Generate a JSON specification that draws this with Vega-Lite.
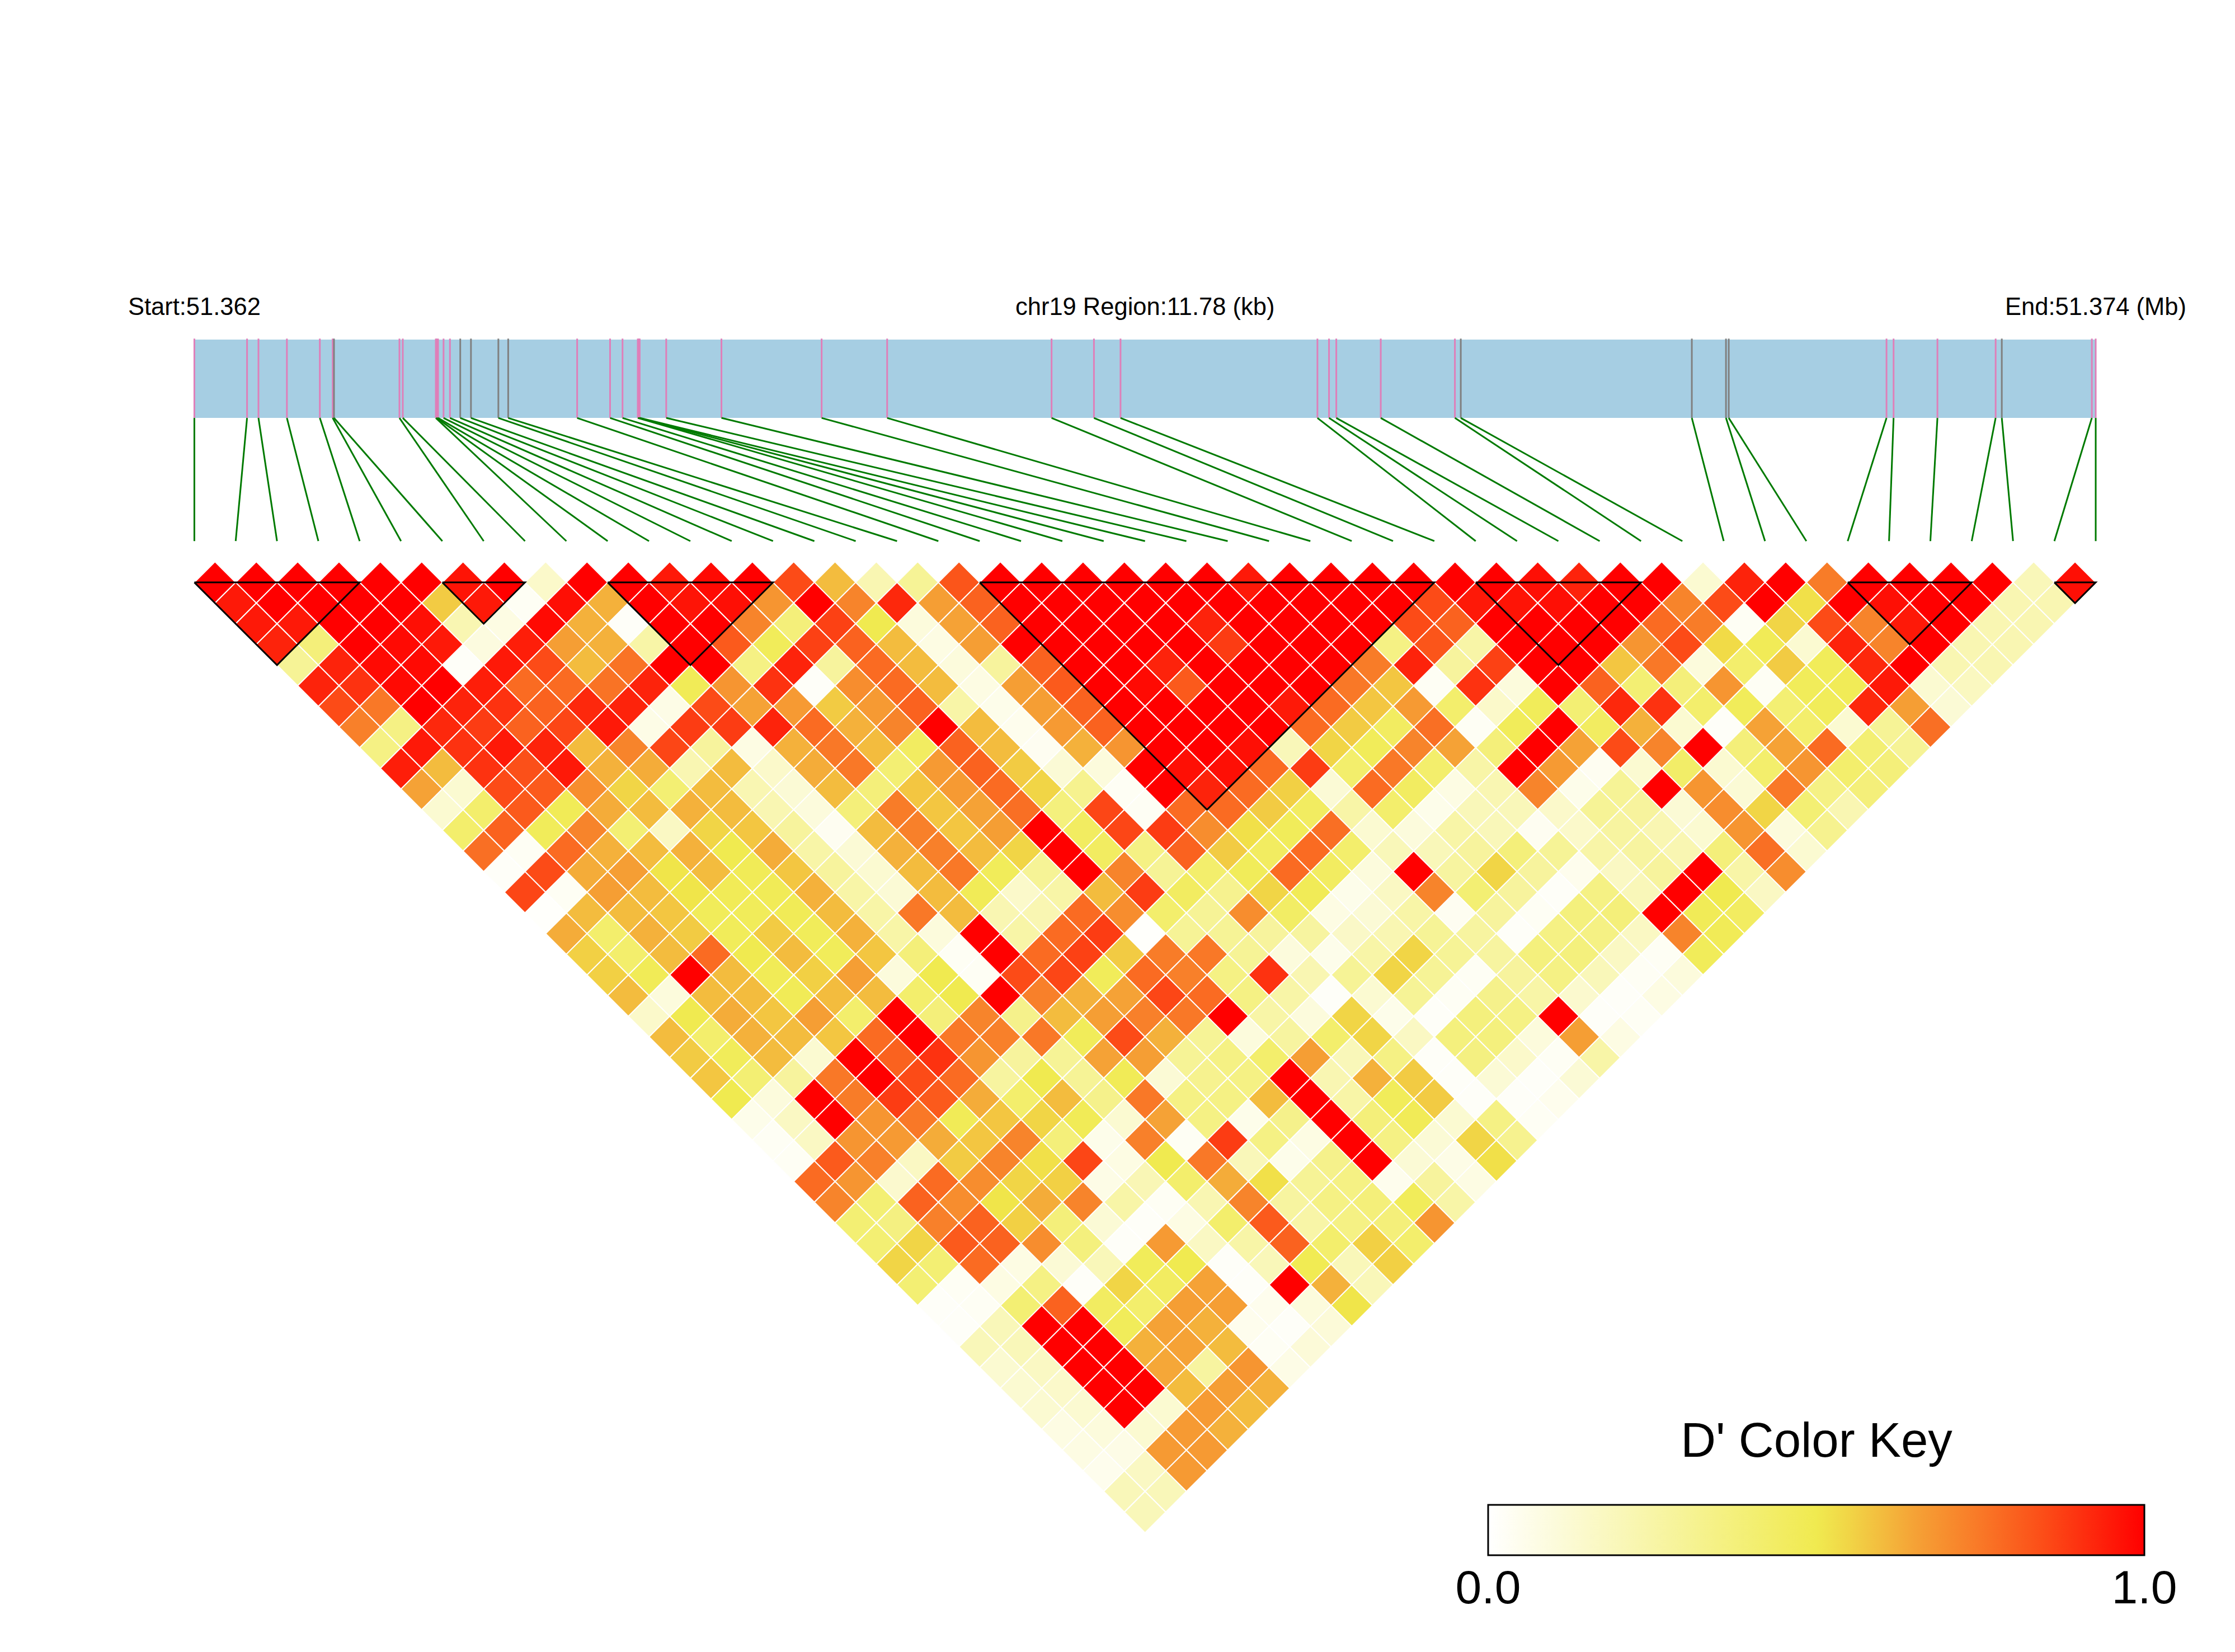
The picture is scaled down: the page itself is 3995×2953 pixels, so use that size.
{"$schema":"https://vega.github.io/schema/vega-lite/v6.json","width":3995,"height":2953,"autosize":{"type":"fit","contains":"padding"},"padding":0,"background":"white","view":{"stroke":null},
"datasets":{
"pairs":[
{"a":0,"d":1,"v":1},{"a":1,"d":1,"v":1},{"a":2,"d":1,"v":1},{"a":3,"d":1,"v":1},{"a":4,"d":1,"v":1},{"a":5,"d":1,"v":1},{"a":6,"d":1,"v":0.96},{"a":7,"d":1,"v":1},{"a":8,"d":1,"v":0.15},{"a":9,"d":1,"v":1},{"a":10,"d":1,"v":1},{"a":11,"d":1,"v":0.95},{"a":12,"d":1,"v":0.98},{"a":13,"d":1,"v":1},{"a":14,"d":1,"v":0.85},{"a":15,"d":1,"v":0.6},{"a":16,"d":1,"v":0.22},{"a":17,"d":1,"v":0.3},{"a":18,"d":1,"v":0.83},{"a":19,"d":1,"v":1},{"a":20,"d":1,"v":1},{"a":21,"d":1,"v":1},{"a":22,"d":1,"v":1},{"a":23,"d":1,"v":1},{"a":24,"d":1,"v":1},{"a":25,"d":1,"v":0.95},{"a":26,"d":1,"v":1},{"a":27,"d":1,"v":1},{"a":28,"d":1,"v":1},{"a":29,"d":1,"v":1},{"a":30,"d":1,"v":1},{"a":31,"d":1,"v":1},{"a":32,"d":1,"v":0.97},{"a":33,"d":1,"v":0.93},{"a":34,"d":1,"v":1},{"a":35,"d":1,"v":1},{"a":36,"d":1,"v":0.13},{"a":37,"d":1,"v":0.93},{"a":38,"d":1,"v":1},{"a":39,"d":1,"v":0.74},{"a":40,"d":1,"v":1},{"a":41,"d":1,"v":1},{"a":42,"d":1,"v":1},{"a":43,"d":1,"v":1},{"a":44,"d":1,"v":0.2},{"a":45,"d":1,"v":0.97},
{"a":0,"d":2,"v":0.95},{"a":1,"d":2,"v":1},{"a":2,"d":2,"v":1},{"a":3,"d":2,"v":1},{"a":4,"d":2,"v":1},{"a":5,"d":2,"v":0.57},{"a":6,"d":2,"v":0.95},{"a":7,"d":2,"v":0.03},{"a":8,"d":2,"v":0.97},{"a":9,"d":2,"v":0.62},{"a":10,"d":2,"v":1},{"a":11,"d":2,"v":0.96},{"a":12,"d":2,"v":0.97},{"a":13,"d":2,"v":0.68},{"a":14,"d":2,"v":1},{"a":15,"d":2,"v":0.72},{"a":16,"d":2,"v":0.92},{"a":17,"d":2,"v":0.66},{"a":18,"d":2,"v":0.8},{"a":19,"d":2,"v":1},{"a":20,"d":2,"v":1},{"a":21,"d":2,"v":1},{"a":22,"d":2,"v":1},{"a":23,"d":2,"v":1},{"a":24,"d":2,"v":1},{"a":25,"d":2,"v":1},{"a":26,"d":2,"v":1},{"a":27,"d":2,"v":1},{"a":28,"d":2,"v":1},{"a":29,"d":2,"v":0.85},{"a":30,"d":2,"v":0.95},{"a":31,"d":2,"v":0.96},{"a":32,"d":2,"v":0.97},{"a":33,"d":2,"v":1},{"a":34,"d":2,"v":1},{"a":35,"d":2,"v":0.72},{"a":36,"d":2,"v":0.85},{"a":37,"d":2,"v":1},{"a":38,"d":2,"v":0.53},{"a":39,"d":2,"v":1},{"a":40,"d":2,"v":0.97},{"a":41,"d":2,"v":1},{"a":42,"d":2,"v":1},{"a":43,"d":2,"v":0.22},{"a":44,"d":2,"v":0.22},
{"a":0,"d":3,"v":0.95},{"a":1,"d":3,"v":0.95},{"a":2,"d":3,"v":1},{"a":3,"d":3,"v":1},{"a":4,"d":3,"v":0.97},{"a":5,"d":3,"v":0.22},{"a":6,"d":3,"v":0.08},{"a":7,"d":3,"v":0.98},{"a":8,"d":3,"v":0.62},{"a":9,"d":3,"v":0.02},{"a":10,"d":3,"v":1},{"a":11,"d":3,"v":1},{"a":12,"d":3,"v":0.72},{"a":13,"d":3,"v":0.38},{"a":14,"d":3,"v":0.87},{"a":15,"d":3,"v":0.5},{"a":16,"d":3,"v":0.1},{"a":17,"d":3,"v":0.65},{"a":18,"d":3,"v":0.8},{"a":19,"d":3,"v":1},{"a":20,"d":3,"v":1},{"a":21,"d":3,"v":1},{"a":22,"d":3,"v":1},{"a":23,"d":3,"v":0.93},{"a":24,"d":3,"v":1},{"a":25,"d":3,"v":1},{"a":26,"d":3,"v":1},{"a":27,"d":3,"v":1},{"a":28,"d":3,"v":0.85},{"a":29,"d":3,"v":0.8},{"a":30,"d":3,"v":1},{"a":31,"d":3,"v":1},{"a":32,"d":3,"v":1},{"a":33,"d":3,"v":1},{"a":34,"d":3,"v":0.78},{"a":35,"d":3,"v":0.74},{"a":36,"d":3,"v":0.03},{"a":37,"d":3,"v":0.55},{"a":38,"d":3,"v":0.85},{"a":39,"d":3,"v":0.72},{"a":40,"d":3,"v":0.95},{"a":41,"d":3,"v":1},{"a":42,"d":3,"v":0.22},{"a":43,"d":3,"v":0.22},
{"a":0,"d":4,"v":0.93},{"a":1,"d":4,"v":0.38},{"a":2,"d":4,"v":1},{"a":3,"d":4,"v":0.98},{"a":4,"d":4,"v":0.95},{"a":5,"d":4,"v":0.09},{"a":6,"d":4,"v":0.94},{"a":7,"d":4,"v":0.66},{"a":8,"d":4,"v":0.62},{"a":9,"d":4,"v":0.25},{"a":10,"d":4,"v":1},{"a":11,"d":4,"v":0.82},{"a":12,"d":4,"v":0.47},{"a":13,"d":4,"v":0.87},{"a":14,"d":4,"v":0.8},{"a":15,"d":4,"v":0.6},{"a":16,"d":4,"v":0.08},{"a":17,"d":4,"v":0.66},{"a":18,"d":4,"v":1},{"a":19,"d":4,"v":1},{"a":20,"d":4,"v":1},{"a":21,"d":4,"v":1},{"a":22,"d":4,"v":1},{"a":23,"d":4,"v":0.88},{"a":24,"d":4,"v":1},{"a":25,"d":4,"v":1},{"a":26,"d":4,"v":1},{"a":27,"d":4,"v":0.35},{"a":28,"d":4,"v":0.83},{"a":29,"d":4,"v":0.25},{"a":30,"d":4,"v":1},{"a":31,"d":4,"v":1},{"a":32,"d":4,"v":1},{"a":33,"d":4,"v":0.68},{"a":34,"d":4,"v":0.85},{"a":35,"d":4,"v":0.54},{"a":36,"d":4,"v":0.48},{"a":37,"d":4,"v":0.13},{"a":38,"d":4,"v":0.93},{"a":39,"d":4,"v":0.72},{"a":40,"d":4,"v":1},{"a":41,"d":4,"v":0.22},{"a":42,"d":4,"v":0.22},
{"a":0,"d":5,"v":0.3},{"a":1,"d":5,"v":0.93},{"a":2,"d":5,"v":0.98},{"a":3,"d":5,"v":0.98},{"a":4,"d":5,"v":0.02},{"a":5,"d":5,"v":0.95},{"a":6,"d":5,"v":0.85},{"a":7,"d":5,"v":0.6},{"a":8,"d":5,"v":0.76},{"a":9,"d":5,"v":1},{"a":10,"d":5,"v":1},{"a":11,"d":5,"v":0.35},{"a":12,"d":5,"v":0.93},{"a":13,"d":5,"v":0.28},{"a":14,"d":5,"v":0.78},{"a":15,"d":5,"v":0.6},{"a":16,"d":5,"v":0.1},{"a":17,"d":5,"v":0.28},{"a":18,"d":5,"v":0.8},{"a":19,"d":5,"v":1},{"a":20,"d":5,"v":1},{"a":21,"d":5,"v":0.93},{"a":22,"d":5,"v":1},{"a":23,"d":5,"v":1},{"a":24,"d":5,"v":1},{"a":25,"d":5,"v":1},{"a":26,"d":5,"v":0.74},{"a":27,"d":5,"v":0.93},{"a":28,"d":5,"v":0.28},{"a":29,"d":5,"v":0.87},{"a":30,"d":5,"v":1},{"a":31,"d":5,"v":1},{"a":32,"d":5,"v":0.58},{"a":33,"d":5,"v":0.75},{"a":34,"d":5,"v":0.1},{"a":35,"d":5,"v":0.42},{"a":36,"d":5,"v":0.57},{"a":37,"d":5,"v":0.47},{"a":38,"d":5,"v":0.92},{"a":39,"d":5,"v":1},{"a":40,"d":5,"v":0.22},{"a":41,"d":5,"v":0.22},
{"a":0,"d":6,"v":0.93},{"a":1,"d":6,"v":0.9},{"a":2,"d":6,"v":0.98},{"a":3,"d":6,"v":1},{"a":4,"d":6,"v":0.94},{"a":5,"d":6,"v":0.78},{"a":6,"d":6,"v":0.78},{"a":7,"d":6,"v":0.76},{"a":8,"d":6,"v":0.93},{"a":9,"d":6,"v":0.48},{"a":10,"d":6,"v":0.68},{"a":11,"d":6,"v":0.9},{"a":12,"d":6,"v":0.02},{"a":13,"d":6,"v":0.7},{"a":14,"d":6,"v":0.78},{"a":15,"d":6,"v":0.6},{"a":16,"d":6,"v":0.08},{"a":17,"d":6,"v":0.66},{"a":18,"d":6,"v":0.82},{"a":19,"d":6,"v":1},{"a":20,"d":6,"v":0.98},{"a":21,"d":6,"v":0.82},{"a":22,"d":6,"v":1},{"a":23,"d":6,"v":1},{"a":24,"d":6,"v":1},{"a":25,"d":6,"v":0.75},{"a":26,"d":6,"v":0.58},{"a":27,"d":6,"v":0.03},{"a":28,"d":6,"v":0.9},{"a":29,"d":6,"v":0.1},{"a":30,"d":6,"v":1},{"a":31,"d":6,"v":0.8},{"a":32,"d":6,"v":0.4},{"a":33,"d":6,"v":0.38},{"a":34,"d":6,"v":0.68},{"a":35,"d":6,"v":0.03},{"a":36,"d":6,"v":0.47},{"a":37,"d":6,"v":0.48},{"a":38,"d":6,"v":0.95},{"a":39,"d":6,"v":0.13},{"a":40,"d":6,"v":0.18},
{"a":0,"d":7,"v":0.85},{"a":1,"d":7,"v":0.75},{"a":2,"d":7,"v":1},{"a":3,"d":7,"v":0.93},{"a":4,"d":7,"v":0.9},{"a":5,"d":7,"v":0.8},{"a":6,"d":7,"v":0.92},{"a":7,"d":7,"v":0.93},{"a":8,"d":7,"v":0.07},{"a":9,"d":7,"v":0.85},{"a":10,"d":7,"v":0.65},{"a":11,"d":7,"v":0.67},{"a":12,"d":7,"v":0.57},{"a":13,"d":7,"v":0.67},{"a":14,"d":7,"v":0.8},{"a":15,"d":7,"v":0.25},{"a":16,"d":7,"v":0.06},{"a":17,"d":7,"v":0.66},{"a":18,"d":7,"v":0.8},{"a":19,"d":7,"v":1},{"a":20,"d":7,"v":1},{"a":21,"d":7,"v":1},{"a":22,"d":7,"v":1},{"a":23,"d":7,"v":0.95},{"a":24,"d":7,"v":0.78},{"a":25,"d":7,"v":0.58},{"a":26,"d":7,"v":0.67},{"a":27,"d":7,"v":0.42},{"a":28,"d":7,"v":0.15},{"a":29,"d":7,"v":0.47},{"a":30,"d":7,"v":0.4},{"a":31,"d":7,"v":0.92},{"a":32,"d":7,"v":0.9},{"a":33,"d":7,"v":0.42},{"a":34,"d":7,"v":0.47},{"a":35,"d":7,"v":0.4},{"a":36,"d":7,"v":0.47},{"a":37,"d":7,"v":0.92},{"a":38,"d":7,"v":0.66},{"a":39,"d":7,"v":0.12},
{"a":0,"d":8,"v":0.73},{"a":1,"d":8,"v":0.35},{"a":2,"d":8,"v":0.92},{"a":3,"d":8,"v":0.88},{"a":4,"d":8,"v":0.8},{"a":5,"d":8,"v":0.86},{"a":6,"d":8,"v":0.95},{"a":7,"d":8,"v":0.07},{"a":8,"d":8,"v":0.88},{"a":9,"d":8,"v":0.88},{"a":10,"d":8,"v":0.93},{"a":11,"d":8,"v":0.78},{"a":12,"d":8,"v":0.62},{"a":13,"d":8,"v":0.72},{"a":14,"d":8,"v":1},{"a":15,"d":8,"v":0.6},{"a":16,"d":8,"v":0.05},{"a":17,"d":8,"v":0.67},{"a":18,"d":8,"v":0.8},{"a":19,"d":8,"v":1},{"a":20,"d":8,"v":1},{"a":21,"d":8,"v":1},{"a":22,"d":8,"v":1},{"a":23,"d":8,"v":0.78},{"a":24,"d":8,"v":0.57},{"a":25,"d":8,"v":0.45},{"a":26,"d":8,"v":0.77},{"a":27,"d":8,"v":0.03},{"a":28,"d":8,"v":0.47},{"a":29,"d":8,"v":1},{"a":30,"d":8,"v":0.45},{"a":31,"d":8,"v":0.62},{"a":32,"d":8,"v":0.13},{"a":33,"d":8,"v":0.02},{"a":34,"d":8,"v":0.65},{"a":35,"d":8,"v":0.42},{"a":36,"d":8,"v":0.13},{"a":37,"d":8,"v":0.3},{"a":38,"d":8,"v":0.77},
{"a":0,"d":9,"v":0.35},{"a":1,"d":9,"v":0.95},{"a":2,"d":9,"v":0.9},{"a":3,"d":9,"v":0.95},{"a":4,"d":9,"v":0.93},{"a":5,"d":9,"v":0.6},{"a":6,"d":9,"v":0.72},{"a":7,"d":9,"v":0.86},{"a":8,"d":9,"v":0.28},{"a":9,"d":9,"v":0.08},{"a":10,"d":9,"v":0.62},{"a":11,"d":9,"v":0.75},{"a":12,"d":9,"v":0.6},{"a":13,"d":9,"v":0.45},{"a":14,"d":9,"v":0.8},{"a":15,"d":9,"v":0.6},{"a":16,"d":9,"v":0.04},{"a":17,"d":9,"v":0.62},{"a":18,"d":9,"v":0.68},{"a":19,"d":9,"v":1},{"a":20,"d":9,"v":1},{"a":21,"d":9,"v":0.97},{"a":22,"d":9,"v":0.2},{"a":23,"d":9,"v":0.55},{"a":24,"d":9,"v":0.47},{"a":25,"d":9,"v":0.72},{"a":26,"d":9,"v":0.65},{"a":27,"d":9,"v":0.38},{"a":28,"d":9,"v":1},{"a":29,"d":9,"v":0.65},{"a":30,"d":9,"v":0.85},{"a":31,"d":9,"v":0.72},{"a":32,"d":9,"v":1},{"a":33,"d":9,"v":0.38},{"a":34,"d":9,"v":0.65},{"a":35,"d":9,"v":0.78},{"a":36,"d":9,"v":0.4},{"a":37,"d":9,"v":0.3},
{"a":0,"d":10,"v":0.94},{"a":1,"d":10,"v":0.6},{"a":2,"d":10,"v":0.9},{"a":3,"d":10,"v":0.84},{"a":4,"d":10,"v":0.95},{"a":5,"d":10,"v":0.62},{"a":6,"d":10,"v":0.63},{"a":7,"d":10,"v":0.22},{"a":8,"d":10,"v":0.6},{"a":9,"d":10,"v":0.15},{"a":10,"d":10,"v":0.63},{"a":11,"d":10,"v":0.75},{"a":12,"d":10,"v":0.4},{"a":13,"d":10,"v":0.67},{"a":14,"d":10,"v":0.8},{"a":15,"d":10,"v":0.57},{"a":16,"d":10,"v":0.12},{"a":17,"d":10,"v":0.1},{"a":18,"d":10,"v":1},{"a":19,"d":10,"v":0.97},{"a":20,"d":10,"v":0.97},{"a":21,"d":10,"v":0.78},{"a":22,"d":10,"v":0.88},{"a":23,"d":10,"v":0.42},{"a":24,"d":10,"v":0.75},{"a":25,"d":10,"v":0.42},{"a":26,"d":10,"v":0.25},{"a":27,"d":10,"v":1},{"a":28,"d":10,"v":0.67},{"a":29,"d":10,"v":0.04},{"a":30,"d":10,"v":0.13},{"a":31,"d":10,"v":0.43},{"a":32,"d":10,"v":0.13},{"a":33,"d":10,"v":0.42},{"a":34,"d":10,"v":0.68},{"a":35,"d":10,"v":0.42},{"a":36,"d":10,"v":0.38},
{"a":0,"d":11,"v":0.65},{"a":1,"d":11,"v":0.13},{"a":2,"d":11,"v":0.85},{"a":3,"d":11,"v":0.82},{"a":4,"d":11,"v":0.7},{"a":5,"d":11,"v":0.55},{"a":6,"d":11,"v":0.4},{"a":7,"d":11,"v":0.6},{"a":8,"d":11,"v":0.22},{"a":9,"d":11,"v":0.12},{"a":10,"d":11,"v":0.6},{"a":11,"d":11,"v":0.38},{"a":12,"d":11,"v":0.58},{"a":13,"d":11,"v":0.67},{"a":14,"d":11,"v":0.78},{"a":15,"d":11,"v":0.55},{"a":16,"d":11,"v":0.32},{"a":17,"d":11,"v":0.03},{"a":18,"d":11,"v":1},{"a":19,"d":11,"v":0.93},{"a":20,"d":11,"v":0.78},{"a":21,"d":11,"v":0.56},{"a":22,"d":11,"v":0.12},{"a":23,"d":11,"v":0.78},{"a":24,"d":11,"v":0.45},{"a":25,"d":11,"v":0.08},{"a":26,"d":11,"v":0.22},{"a":27,"d":11,"v":0.72},{"a":28,"d":11,"v":0.06},{"a":29,"d":11,"v":0.3},{"a":30,"d":11,"v":1},{"a":31,"d":11,"v":0.68},{"a":32,"d":11,"v":0.12},{"a":33,"d":11,"v":0.75},{"a":34,"d":11,"v":0.35},{"a":35,"d":11,"v":0.38},
{"a":0,"d":12,"v":0.13},{"a":1,"d":12,"v":0.42},{"a":2,"d":12,"v":0.82},{"a":3,"d":12,"v":0.48},{"a":4,"d":12,"v":0.63},{"a":5,"d":12,"v":0.6},{"a":6,"d":12,"v":0.62},{"a":7,"d":12,"v":0.6},{"a":8,"d":12,"v":0.22},{"a":9,"d":12,"v":0.1},{"a":10,"d":12,"v":0.38},{"a":11,"d":12,"v":0.74},{"a":12,"d":12,"v":0.58},{"a":13,"d":12,"v":0.65},{"a":14,"d":12,"v":0.77},{"a":15,"d":12,"v":0.37},{"a":16,"d":12,"v":0.86},{"a":17,"d":12,"v":0.03},{"a":18,"d":12,"v":0.78},{"a":19,"d":12,"v":0.78},{"a":20,"d":12,"v":0.57},{"a":21,"d":12,"v":0.45},{"a":22,"d":12,"v":0.25},{"a":23,"d":12,"v":0.42},{"a":24,"d":12,"v":0.06},{"a":25,"d":12,"v":0.2},{"a":26,"d":12,"v":0.2},{"a":27,"d":12,"v":0.15},{"a":28,"d":12,"v":0.3},{"a":29,"d":12,"v":0.28},{"a":30,"d":12,"v":0.12},{"a":31,"d":12,"v":0.7},{"a":32,"d":12,"v":0.55},{"a":33,"d":12,"v":0.4},{"a":34,"d":12,"v":0.22},
{"a":0,"d":13,"v":0.42},{"a":1,"d":13,"v":0.8},{"a":2,"d":13,"v":0.47},{"a":3,"d":13,"v":0.72},{"a":4,"d":13,"v":0.4},{"a":5,"d":13,"v":0.17},{"a":6,"d":13,"v":0.55},{"a":7,"d":13,"v":0.58},{"a":8,"d":13,"v":0.28},{"a":9,"d":13,"v":0.04},{"a":10,"d":13,"v":0.6},{"a":11,"d":13,"v":0.73},{"a":12,"d":13,"v":0.58},{"a":13,"d":13,"v":0.66},{"a":14,"d":13,"v":1},{"a":15,"d":13,"v":0.45},{"a":16,"d":13,"v":0.86},{"a":17,"d":13,"v":0.88},{"a":18,"d":13,"v":0.7},{"a":19,"d":13,"v":0.53},{"a":20,"d":13,"v":0.47},{"a":21,"d":13,"v":0.77},{"a":22,"d":13,"v":0.13},{"a":23,"d":13,"v":0.1},{"a":24,"d":13,"v":0.25},{"a":25,"d":13,"v":0.2},{"a":26,"d":13,"v":0.04},{"a":27,"d":13,"v":0.15},{"a":28,"d":13,"v":0.27},{"a":29,"d":13,"v":0.22},{"a":30,"d":13,"v":0.13},{"a":31,"d":13,"v":0.68},{"a":32,"d":13,"v":0.1},{"a":33,"d":13,"v":0.32},
{"a":0,"d":14,"v":0.77},{"a":1,"d":14,"v":0.03},{"a":2,"d":14,"v":0.78},{"a":3,"d":14,"v":0.62},{"a":4,"d":14,"v":0.6},{"a":5,"d":14,"v":0.62},{"a":6,"d":14,"v":0.5},{"a":7,"d":14,"v":0.63},{"a":8,"d":14,"v":0.25},{"a":9,"d":14,"v":0.12},{"a":10,"d":14,"v":0.62},{"a":11,"d":14,"v":0.73},{"a":12,"d":14,"v":0.6},{"a":13,"d":14,"v":0.55},{"a":14,"d":14,"v":1},{"a":15,"d":14,"v":0.45},{"a":16,"d":14,"v":0.35},{"a":17,"d":14,"v":0.8},{"a":18,"d":14,"v":0.57},{"a":19,"d":14,"v":0.45},{"a":20,"d":14,"v":0.78},{"a":21,"d":14,"v":0.42},{"a":22,"d":14,"v":0.2},{"a":23,"d":14,"v":0.2},{"a":24,"d":14,"v":0.28},{"a":25,"d":14,"v":0.38},{"a":26,"d":14,"v":0.3},{"a":27,"d":14,"v":0.25},{"a":28,"d":14,"v":0.27},{"a":29,"d":14,"v":0.22},{"a":30,"d":14,"v":0.38},{"a":31,"d":14,"v":0.77},{"a":32,"d":14,"v":0.13},
{"a":0,"d":15,"v":0.02},{"a":1,"d":15,"v":0.85},{"a":2,"d":15,"v":0.63},{"a":3,"d":15,"v":0.66},{"a":4,"d":15,"v":0.52},{"a":5,"d":15,"v":0.6},{"a":6,"d":15,"v":0.48},{"a":7,"d":15,"v":0.58},{"a":8,"d":15,"v":0.28},{"a":9,"d":15,"v":0.13},{"a":10,"d":15,"v":0.6},{"a":11,"d":15,"v":0.75},{"a":12,"d":15,"v":0.47},{"a":13,"d":15,"v":0.3},{"a":14,"d":15,"v":1},{"a":15,"d":15,"v":0.72},{"a":16,"d":15,"v":0.3},{"a":17,"d":15,"v":0.42},{"a":18,"d":15,"v":0.47},{"a":19,"d":15,"v":0.78},{"a":20,"d":15,"v":0.45},{"a":21,"d":15,"v":0.1},{"a":22,"d":15,"v":1},{"a":23,"d":15,"v":0.27},{"a":24,"d":15,"v":0.55},{"a":25,"d":15,"v":0.28},{"a":26,"d":15,"v":0.05},{"a":27,"d":15,"v":0.17},{"a":28,"d":15,"v":0.28},{"a":29,"d":15,"v":1},{"a":30,"d":15,"v":0.25},{"a":31,"d":15,"v":0.7},
{"a":0,"d":16,"v":0.86},{"a":1,"d":16,"v":0.03},{"a":2,"d":16,"v":0.66},{"a":3,"d":16,"v":0.6},{"a":4,"d":16,"v":0.52},{"a":5,"d":16,"v":0.48},{"a":6,"d":16,"v":0.48},{"a":7,"d":16,"v":0.62},{"a":8,"d":16,"v":0.25},{"a":9,"d":16,"v":0.12},{"a":10,"d":16,"v":0.6},{"a":11,"d":16,"v":0.48},{"a":12,"d":16,"v":0.15},{"a":13,"d":16,"v":0.25},{"a":14,"d":16,"v":0.6},{"a":15,"d":16,"v":0.88},{"a":16,"d":16,"v":0.45},{"a":17,"d":16,"v":0.32},{"a":18,"d":16,"v":0.55},{"a":19,"d":16,"v":0.48},{"a":20,"d":16,"v":0.06},{"a":21,"d":16,"v":0.17},{"a":22,"d":16,"v":0.72},{"a":23,"d":16,"v":0.4},{"a":24,"d":16,"v":0.28},{"a":25,"d":16,"v":0.02},{"a":26,"d":16,"v":0.35},{"a":27,"d":16,"v":0.2},{"a":28,"d":16,"v":1},{"a":29,"d":16,"v":0.5},{"a":30,"d":16,"v":0.17},
{"a":0,"d":17,"v":0.01},{"a":1,"d":17,"v":0.6},{"a":2,"d":17,"v":0.6},{"a":3,"d":17,"v":0.58},{"a":4,"d":17,"v":0.47},{"a":5,"d":17,"v":0.47},{"a":6,"d":17,"v":0.48},{"a":7,"d":17,"v":0.6},{"a":8,"d":17,"v":0.25},{"a":9,"d":17,"v":0.75},{"a":10,"d":17,"v":0.6},{"a":11,"d":17,"v":0.22},{"a":12,"d":17,"v":0.22},{"a":13,"d":17,"v":0.78},{"a":14,"d":17,"v":0.7},{"a":15,"d":17,"v":0.42},{"a":16,"d":17,"v":0.3},{"a":17,"d":17,"v":0.7},{"a":18,"d":17,"v":0.44},{"a":19,"d":17,"v":0.08},{"a":20,"d":17,"v":0.12},{"a":21,"d":17,"v":0.25},{"a":22,"d":17,"v":0.04},{"a":23,"d":17,"v":0.28},{"a":24,"d":17,"v":0.03},{"a":25,"d":17,"v":0.37},{"a":26,"d":17,"v":0.38},{"a":27,"d":17,"v":1},{"a":28,"d":17,"v":0.48},{"a":29,"d":17,"v":0.45},
{"a":0,"d":18,"v":0.63},{"a":1,"d":18,"v":0.42},{"a":2,"d":18,"v":0.62},{"a":3,"d":18,"v":0.57},{"a":4,"d":18,"v":0.47},{"a":5,"d":18,"v":0.57},{"a":6,"d":18,"v":0.47},{"a":7,"d":18,"v":0.62},{"a":8,"d":18,"v":0.25},{"a":9,"d":18,"v":0.1},{"a":10,"d":18,"v":1},{"a":11,"d":18,"v":0.25},{"a":12,"d":18,"v":0.78},{"a":13,"d":18,"v":0.88},{"a":14,"d":18,"v":0.01},{"a":15,"d":18,"v":0.3},{"a":16,"d":18,"v":0.3},{"a":17,"d":18,"v":0.28},{"a":18,"d":18,"v":0.27},{"a":19,"d":18,"v":0.16},{"a":20,"d":18,"v":0.22},{"a":21,"d":18,"v":0.3},{"a":22,"d":18,"v":0.27},{"a":23,"d":18,"v":0.02},{"a":24,"d":18,"v":0.35},{"a":25,"d":18,"v":0.35},{"a":26,"d":18,"v":0.17},{"a":27,"d":18,"v":0.72},{"a":28,"d":18,"v":0.48},
{"a":0,"d":19,"v":0.56},{"a":1,"d":19,"v":0.42},{"a":2,"d":19,"v":0.6},{"a":3,"d":19,"v":0.78},{"a":4,"d":19,"v":0.5},{"a":5,"d":19,"v":0.6},{"a":6,"d":19,"v":0.47},{"a":7,"d":19,"v":0.58},{"a":8,"d":19,"v":0.38},{"a":9,"d":19,"v":0.03},{"a":10,"d":19,"v":1},{"a":11,"d":19,"v":0.78},{"a":12,"d":19,"v":0.87},{"a":13,"d":19,"v":0.57},{"a":14,"d":19,"v":0.74},{"a":15,"d":19,"v":0.75},{"a":16,"d":19,"v":0.3},{"a":17,"d":19,"v":0.1},{"a":18,"d":19,"v":0.06},{"a":19,"d":19,"v":0.25},{"a":20,"d":19,"v":0.55},{"a":21,"d":19,"v":0.3},{"a":22,"d":19,"v":0.27},{"a":23,"d":19,"v":0.37},{"a":24,"d":19,"v":0.37},{"a":25,"d":19,"v":0.17},{"a":26,"d":19,"v":0.03},{"a":27,"d":19,"v":0.47},
{"a":0,"d":20,"v":0.56},{"a":1,"d":20,"v":0.48},{"a":2,"d":20,"v":1},{"a":3,"d":20,"v":0.6},{"a":4,"d":20,"v":0.48},{"a":5,"d":20,"v":0.56},{"a":6,"d":20,"v":0.66},{"a":7,"d":20,"v":0.1},{"a":8,"d":20,"v":0.5},{"a":9,"d":20,"v":0.03},{"a":10,"d":20,"v":0.85},{"a":11,"d":20,"v":0.86},{"a":12,"d":20,"v":0.47},{"a":13,"d":20,"v":0.78},{"a":14,"d":20,"v":0.73},{"a":15,"d":20,"v":0.35},{"a":16,"d":20,"v":0.9},{"a":17,"d":20,"v":0.22},{"a":18,"d":20,"v":0.3},{"a":19,"d":20,"v":0.55},{"a":20,"d":20,"v":0.3},{"a":21,"d":20,"v":0.03},{"a":22,"d":20,"v":0.28},{"a":23,"d":20,"v":0.35},{"a":24,"d":20,"v":0.2},{"a":25,"d":20,"v":0.03},{"a":26,"d":20,"v":0.1},
{"a":0,"d":21,"v":0.6},{"a":1,"d":21,"v":0.1},{"a":2,"d":21,"v":0.6},{"a":3,"d":21,"v":0.6},{"a":4,"d":21,"v":0.48},{"a":5,"d":21,"v":0.6},{"a":6,"d":21,"v":0.6},{"a":7,"d":21,"v":0.42},{"a":8,"d":21,"v":0.5},{"a":9,"d":21,"v":1},{"a":10,"d":21,"v":0.73},{"a":11,"d":21,"v":0.62},{"a":12,"d":21,"v":0.65},{"a":13,"d":21,"v":0.86},{"a":14,"d":21,"v":0.78},{"a":15,"d":21,"v":0.35},{"a":16,"d":21,"v":0.25},{"a":17,"d":21,"v":0.02},{"a":18,"d":21,"v":0.13},{"a":19,"d":21,"v":0.3},{"a":20,"d":21,"v":0.03},{"a":21,"d":21,"v":0.33},{"a":22,"d":21,"v":0.25},{"a":23,"d":21,"v":0.14},{"a":24,"d":21,"v":0.02},{"a":25,"d":21,"v":0.08},
{"a":0,"d":22,"v":0.15},{"a":1,"d":22,"v":0.5},{"a":2,"d":22,"v":0.63},{"a":3,"d":22,"v":0.58},{"a":4,"d":22,"v":0.66},{"a":5,"d":22,"v":0.42},{"a":6,"d":22,"v":1},{"a":7,"d":22,"v":0.38},{"a":8,"d":22,"v":0.72},{"a":9,"d":22,"v":0.33},{"a":10,"d":22,"v":0.6},{"a":11,"d":22,"v":0.66},{"a":12,"d":22,"v":0.73},{"a":13,"d":22,"v":0.75},{"a":14,"d":22,"v":1},{"a":15,"d":22,"v":0.25},{"a":16,"d":22,"v":0.1},{"a":17,"d":22,"v":0.55},{"a":18,"d":22,"v":0.06},{"a":19,"d":22,"v":0.02},{"a":20,"d":22,"v":0.37},{"a":21,"d":22,"v":0.35},{"a":22,"d":22,"v":1},{"a":23,"d":22,"v":0.02},{"a":24,"d":22,"v":0.03},
{"a":0,"d":23,"v":0.6},{"a":1,"d":23,"v":0.42},{"a":2,"d":23,"v":0.62},{"a":3,"d":23,"v":0.6},{"a":4,"d":23,"v":0.58},{"a":5,"d":23,"v":0.78},{"a":6,"d":23,"v":1},{"a":7,"d":23,"v":0.75},{"a":8,"d":23,"v":0.73},{"a":9,"d":23,"v":0.75},{"a":10,"d":23,"v":0.47},{"a":11,"d":23,"v":0.85},{"a":12,"d":23,"v":0.62},{"a":13,"d":23,"v":0.3},{"a":14,"d":23,"v":0.1},{"a":15,"d":23,"v":0.27},{"a":16,"d":23,"v":0.42},{"a":17,"d":23,"v":0.55},{"a":18,"d":23,"v":0.17},{"a":19,"d":23,"v":0.37},{"a":20,"d":23,"v":0.37},{"a":21,"d":23,"v":0.1},{"a":22,"d":23,"v":0.66},{"a":23,"d":23,"v":0.08},
{"a":0,"d":24,"v":0.57},{"a":1,"d":24,"v":0.47},{"a":2,"d":24,"v":0.6},{"a":3,"d":24,"v":0.13},{"a":4,"d":24,"v":1},{"a":5,"d":24,"v":0.8},{"a":6,"d":24,"v":0.9},{"a":7,"d":24,"v":0.68},{"a":8,"d":24,"v":0.28},{"a":9,"d":24,"v":0.3},{"a":10,"d":24,"v":0.65},{"a":11,"d":24,"v":0.66},{"a":12,"d":24,"v":0.3},{"a":13,"d":24,"v":0.35},{"a":14,"d":24,"v":0.42},{"a":15,"d":24,"v":0.66},{"a":16,"d":24,"v":0.2},{"a":17,"d":24,"v":0.35},{"a":18,"d":24,"v":0.02},{"a":19,"d":24,"v":0.36},{"a":20,"d":24,"v":0.15},{"a":21,"d":24,"v":0.03},{"a":22,"d":24,"v":0.25},
{"a":0,"d":25,"v":0.58},{"a":1,"d":25,"v":0.4},{"a":2,"d":25,"v":0.28},{"a":3,"d":25,"v":0.75},{"a":4,"d":25,"v":1},{"a":5,"d":25,"v":0.85},{"a":6,"d":25,"v":0.78},{"a":7,"d":25,"v":0.27},{"a":8,"d":25,"v":0.5},{"a":9,"d":25,"v":0.3},{"a":10,"d":25,"v":0.48},{"a":11,"d":25,"v":0.12},{"a":12,"d":25,"v":0.32},{"a":13,"d":25,"v":0.35},{"a":14,"d":25,"v":1},{"a":15,"d":25,"v":0.22},{"a":16,"d":25,"v":0.62},{"a":17,"d":25,"v":0.57},{"a":18,"d":25,"v":0.02},{"a":19,"d":25,"v":0.12},{"a":20,"d":25,"v":0.02},{"a":21,"d":25,"v":0.12},
{"a":0,"d":26,"v":0.5},{"a":1,"d":26,"v":0.1},{"a":2,"d":26,"v":1},{"a":3,"d":26,"v":0.74},{"a":4,"d":26,"v":0.88},{"a":5,"d":26,"v":0.82},{"a":6,"d":26,"v":0.63},{"a":7,"d":26,"v":0.42},{"a":8,"d":26,"v":0.6},{"a":9,"d":26,"v":0.33},{"a":10,"d":26,"v":0.75},{"a":11,"d":26,"v":0.35},{"a":12,"d":26,"v":0.35},{"a":13,"d":26,"v":0.6},{"a":14,"d":26,"v":1},{"a":15,"d":26,"v":0.25},{"a":16,"d":26,"v":0.47},{"a":17,"d":26,"v":0.57},{"a":18,"d":26,"v":0.02},{"a":19,"d":26,"v":0.02},{"a":20,"d":26,"v":0.05},
{"a":0,"d":27,"v":0.06},{"a":1,"d":27,"v":0.17},{"a":2,"d":27,"v":1},{"a":3,"d":27,"v":0.68},{"a":4,"d":27,"v":0.75},{"a":5,"d":27,"v":0.48},{"a":6,"d":27,"v":0.58},{"a":7,"d":27,"v":0.55},{"a":8,"d":27,"v":0.48},{"a":9,"d":27,"v":0.13},{"a":10,"d":27,"v":0.65},{"a":11,"d":27,"v":0.35},{"a":12,"d":27,"v":0.06},{"a":13,"d":27,"v":0.33},{"a":14,"d":27,"v":1},{"a":15,"d":27,"v":0.38},{"a":16,"d":27,"v":0.48},{"a":17,"d":27,"v":0.13},{"a":18,"d":27,"v":0.35},{"a":19,"d":27,"v":0.03},
{"a":0,"d":28,"v":0.03},{"a":1,"d":28,"v":0.17},{"a":2,"d":28,"v":0.68},{"a":3,"d":28,"v":0.67},{"a":4,"d":28,"v":0.63},{"a":5,"d":28,"v":0.58},{"a":6,"d":28,"v":0.72},{"a":7,"d":28,"v":0.38},{"a":8,"d":28,"v":0.06},{"a":9,"d":28,"v":0.73},{"a":10,"d":28,"v":0.03},{"a":11,"d":28,"v":0.88},{"a":12,"d":28,"v":0.35},{"a":13,"d":28,"v":0.08},{"a":14,"d":28,"v":1},{"a":15,"d":28,"v":0.35},{"a":16,"d":28,"v":0.12},{"a":17,"d":28,"v":0.55},{"a":18,"d":28,"v":0.32},
{"a":0,"d":29,"v":0.03},{"a":1,"d":29,"v":0.82},{"a":2,"d":29,"v":0.73},{"a":3,"d":29,"v":0.17},{"a":4,"d":29,"v":0.57},{"a":5,"d":29,"v":0.72},{"a":6,"d":29,"v":0.53},{"a":7,"d":29,"v":0.86},{"a":8,"d":29,"v":0.08},{"a":9,"d":29,"v":0.5},{"a":10,"d":29,"v":0.75},{"a":11,"d":29,"v":0.2},{"a":12,"d":29,"v":0.06},{"a":13,"d":29,"v":0.33},{"a":14,"d":29,"v":1},{"a":15,"d":29,"v":0.12},{"a":16,"d":29,"v":0.07},{"a":17,"d":29,"v":0.53},
{"a":0,"d":30,"v":0.78},{"a":1,"d":30,"v":0.68},{"a":2,"d":30,"v":0.14},{"a":3,"d":30,"v":0.78},{"a":4,"d":30,"v":0.7},{"a":5,"d":30,"v":0.55},{"a":6,"d":30,"v":0.56},{"a":7,"d":30,"v":0.07},{"a":8,"d":30,"v":0.21},{"a":9,"d":30,"v":0.42},{"a":10,"d":30,"v":0.63},{"a":11,"d":30,"v":0.53},{"a":12,"d":30,"v":0.3},{"a":13,"d":30,"v":0.35},{"a":14,"d":30,"v":0.05},{"a":15,"d":30,"v":0.28},{"a":16,"d":30,"v":0.08},
{"a":0,"d":31,"v":0.72},{"a":1,"d":31,"v":0.4},{"a":2,"d":31,"v":0.8},{"a":3,"d":31,"v":0.7},{"a":4,"d":31,"v":0.52},{"a":5,"d":31,"v":0.63},{"a":6,"d":31,"v":0.72},{"a":7,"d":31,"v":0.25},{"a":8,"d":31,"v":0.03},{"a":9,"d":31,"v":0.22},{"a":10,"d":31,"v":0.72},{"a":11,"d":31,"v":0.27},{"a":12,"d":31,"v":0.35},{"a":13,"d":31,"v":0.38},{"a":14,"d":31,"v":0.47},{"a":15,"d":31,"v":0.25},
{"a":0,"d":32,"v":0.4},{"a":1,"d":32,"v":0.36},{"a":2,"d":32,"v":0.73},{"a":3,"d":32,"v":0.8},{"a":4,"d":32,"v":0.56},{"a":5,"d":32,"v":0.38},{"a":6,"d":32,"v":0.12},{"a":7,"d":32,"v":0.02},{"a":8,"d":32,"v":0.08},{"a":9,"d":32,"v":0.42},{"a":10,"d":32,"v":0.82},{"a":11,"d":32,"v":0.25},{"a":12,"d":32,"v":0.35},{"a":13,"d":32,"v":0.38},{"a":14,"d":32,"v":0.68},
{"a":0,"d":33,"v":0.4},{"a":1,"d":33,"v":0.55},{"a":2,"d":33,"v":0.82},{"a":3,"d":33,"v":0.8},{"a":4,"d":33,"v":0.7},{"a":5,"d":33,"v":0.37},{"a":6,"d":33,"v":0.02},{"a":7,"d":33,"v":0.67},{"a":8,"d":33,"v":0.17},{"a":9,"d":33,"v":0.25},{"a":10,"d":33,"v":0.8},{"a":11,"d":33,"v":0.42},{"a":12,"d":33,"v":0.56},{"a":13,"d":33,"v":0.42},
{"a":0,"d":34,"v":0.55},{"a":1,"d":34,"v":0.4},{"a":2,"d":34,"v":0.78},{"a":3,"d":34,"v":0.08},{"a":4,"d":34,"v":0.12},{"a":5,"d":34,"v":0.2},{"a":6,"d":34,"v":0.47},{"a":7,"d":34,"v":0.5},{"a":8,"d":34,"v":0.02},{"a":9,"d":34,"v":0.2},{"a":10,"d":34,"v":0.49},{"a":11,"d":34,"v":0.2},{"a":12,"d":34,"v":0.56},
{"a":0,"d":35,"v":0.4},{"a":1,"d":35,"v":0.03},{"a":2,"d":35,"v":0.08},{"a":3,"d":35,"v":0.35},{"a":4,"d":35,"v":0.02},{"a":5,"d":35,"v":0.55},{"a":6,"d":35,"v":0.45},{"a":7,"d":35,"v":0.65},{"a":8,"d":35,"v":0.02},{"a":9,"d":35,"v":1},{"a":10,"d":35,"v":0.62},{"a":11,"d":35,"v":0.2},
{"a":0,"d":36,"v":0.02},{"a":1,"d":36,"v":0.03},{"a":2,"d":36,"v":0.4},{"a":3,"d":36,"v":0.8},{"a":4,"d":36,"v":0.45},{"a":5,"d":36,"v":0.42},{"a":6,"d":36,"v":0.66},{"a":7,"d":36,"v":0.66},{"a":8,"d":36,"v":0.05},{"a":9,"d":36,"v":0.1},{"a":10,"d":36,"v":0.52},
{"a":0,"d":37,"v":0.02},{"a":1,"d":37,"v":0.2},{"a":2,"d":37,"v":1},{"a":3,"d":37,"v":1},{"a":4,"d":37,"v":0.47},{"a":5,"d":37,"v":0.65},{"a":6,"d":37,"v":0.62},{"a":7,"d":37,"v":0.05},{"a":8,"d":37,"v":0.02},{"a":9,"d":37,"v":0.11},
{"a":0,"d":38,"v":0.2},{"a":1,"d":38,"v":0.2},{"a":2,"d":38,"v":1},{"a":3,"d":38,"v":1},{"a":4,"d":38,"v":0.62},{"a":5,"d":38,"v":0.65},{"a":6,"d":38,"v":0.6},{"a":7,"d":38,"v":0.03},{"a":8,"d":38,"v":0.11},
{"a":0,"d":39,"v":0.13},{"a":1,"d":39,"v":0.17},{"a":2,"d":39,"v":1},{"a":3,"d":39,"v":1},{"a":4,"d":39,"v":0.64},{"a":5,"d":39,"v":0.27},{"a":6,"d":39,"v":0.68},{"a":7,"d":39,"v":0.07},
{"a":0,"d":40,"v":0.13},{"a":1,"d":40,"v":0.15},{"a":2,"d":40,"v":1},{"a":3,"d":40,"v":1},{"a":4,"d":40,"v":0.6},{"a":5,"d":40,"v":0.66},{"a":6,"d":40,"v":0.62},
{"a":0,"d":41,"v":0.13},{"a":1,"d":41,"v":0.13},{"a":2,"d":41,"v":1},{"a":3,"d":41,"v":0.13},{"a":4,"d":41,"v":0.67},{"a":5,"d":41,"v":0.6},
{"a":0,"d":42,"v":0.08},{"a":1,"d":42,"v":0.1},{"a":2,"d":42,"v":0.13},{"a":3,"d":42,"v":0.67},{"a":4,"d":42,"v":0.62},
{"a":0,"d":43,"v":0.08},{"a":1,"d":43,"v":0.07},{"a":2,"d":43,"v":0.67},{"a":3,"d":43,"v":0.67},
{"a":0,"d":44,"v":0.05},{"a":1,"d":44,"v":0.17},{"a":2,"d":44,"v":0.67},
{"a":0,"d":45,"v":0.2},{"a":1,"d":45,"v":0.2},
{"a":0,"d":46,"v":0.2}
],
"snps":[
{"snp":0,"track":0,"kind":"pink"},{"snp":1,"track":1.275,"kind":"pink"},{"snp":2,"track":1.551,"kind":"pink"},{"snp":3,"track":2.239,"kind":"pink"},{"snp":4,"track":3.036,"kind":"pink"},{"snp":5,"track":3.346,"kind":"pink"},{"snp":6,"track":3.378,"kind":"gray"},{"snp":7,"track":4.962,"kind":"pink"},{"snp":8,"track":5.043,"kind":"pink"},{"snp":9,"track":5.842,"kind":"pink"},{"snp":10,"track":5.864,"kind":"pink"},{"snp":11,"track":5.896,"kind":"pink"},{"snp":12,"track":6.029,"kind":"pink"},{"snp":13,"track":6.184,"kind":"pink"},{"snp":14,"track":6.433,"kind":"gray"},{"snp":15,"track":6.692,"kind":"gray"},{"snp":16,"track":7.355,"kind":"gray"},{"snp":17,"track":7.593,"kind":"gray"},{"snp":18,"track":9.261,"kind":"pink"},{"snp":19,"track":10.058,"kind":"pink"},{"snp":20,"track":10.359,"kind":"pink"},{"snp":21,"track":10.728,"kind":"pink"},{"snp":22,"track":10.752,"kind":"pink"},{"snp":23,"track":10.774,"kind":"pink"},{"snp":24,"track":11.416,"kind":"pink"},{"snp":25,"track":12.752,"kind":"pink"},{"snp":26,"track":15.176,"kind":"pink"},{"snp":27,"track":16.761,"kind":"pink"},{"snp":28,"track":20.739,"kind":"pink"},{"snp":29,"track":21.764,"kind":"pink"},{"snp":30,"track":22.407,"kind":"pink"},{"snp":31,"track":27.171,"kind":"pink"},{"snp":32,"track":27.451,"kind":"pink"},{"snp":33,"track":27.627,"kind":"pink"},{"snp":34,"track":28.703,"kind":"pink"},{"snp":35,"track":30.497,"kind":"pink"},{"snp":36,"track":30.639,"kind":"gray"},{"snp":37,"track":36.229,"kind":"gray"},{"snp":38,"track":37.055,"kind":"gray"},{"snp":39,"track":37.122,"kind":"gray"},{"snp":40,"track":40.939,"kind":"pink"},{"snp":41,"track":41.11,"kind":"pink"},{"snp":42,"track":42.171,"kind":"pink"},{"snp":43,"track":43.579,"kind":"pink"},{"snp":44,"track":43.728,"kind":"gray"},{"snp":45,"track":45.907,"kind":"pink"},{"snp":46,"track":46,"kind":"pink"}
],
"blocks":[
{"block":1,"seq":1,"pos":0,"sep":1},{"block":1,"seq":2,"pos":4,"sep":1},{"block":1,"seq":3,"pos":2,"sep":5},{"block":1,"seq":4,"pos":0,"sep":1},
{"block":2,"seq":1,"pos":6,"sep":1},{"block":2,"seq":2,"pos":8,"sep":1},{"block":2,"seq":3,"pos":7,"sep":3},{"block":2,"seq":4,"pos":6,"sep":1},
{"block":3,"seq":1,"pos":10,"sep":1},{"block":3,"seq":2,"pos":14,"sep":1},{"block":3,"seq":3,"pos":12,"sep":5},{"block":3,"seq":4,"pos":10,"sep":1},
{"block":4,"seq":1,"pos":19,"sep":1},{"block":4,"seq":2,"pos":30,"sep":1},{"block":4,"seq":3,"pos":24.5,"sep":12},{"block":4,"seq":4,"pos":19,"sep":1},
{"block":5,"seq":1,"pos":31,"sep":1},{"block":5,"seq":2,"pos":35,"sep":1},{"block":5,"seq":3,"pos":33,"sep":5},{"block":5,"seq":4,"pos":31,"sep":1},
{"block":6,"seq":1,"pos":40,"sep":1},{"block":6,"seq":2,"pos":43,"sep":1},{"block":6,"seq":3,"pos":41.5,"sep":4},{"block":6,"seq":4,"pos":40,"sep":1},
{"block":7,"seq":1,"pos":45,"sep":1},{"block":7,"seq":2,"pos":46,"sep":1},{"block":7,"seq":3,"pos":45.5,"sep":2},{"block":7,"seq":4,"pos":45,"sep":1}
],
"titles":[{"pos":0,"label":"Start:51.362"},{"pos":23,"label":"chr19 Region:11.78 (kb)"},{"pos":46,"label":"End:51.374 (Mb)"}]
},
"encoding":{},
"layer":[
{"data":{"values":[{"from":0,"to":46}]},"mark":{"type":"rect","color":"#A6CEE3"},
 "encoding":{"x":{"field":"from","type":"quantitative","scale":{"domain":[-4.702,49.37],"nice":false,"zero":false},"axis":null},"x2":{"field":"to"},"y":{"datum":-10.752,"type":"quantitative","scale":{"domain":[52.77,-27.19],"nice":false,"zero":false},"axis":null},"y2":{"datum":-6.961}}},
{"data":{"name":"snps"},"transform":[{"filter":"datum.kind==='pink'"}],"mark":{"type":"rule","color":"#DF7FB9","strokeWidth":3},
 "encoding":{"x":{"field":"track","type":"quantitative"},"y":{"datum":-10.8,"type":"quantitative"},"y2":{"datum":-6.961}}},
{"data":{"name":"snps"},"transform":[{"filter":"datum.kind==='gray'"}],"mark":{"type":"rule","color":"#808080","strokeWidth":3},
 "encoding":{"x":{"field":"track","type":"quantitative"},"y":{"datum":-10.8,"type":"quantitative"},"y2":{"datum":-6.961}}},
{"data":{"name":"snps"},"mark":{"type":"rule","color":"#007A00","strokeWidth":3},
 "encoding":{"x":{"field":"track","type":"quantitative"},"x2":{"field":"snp"},"y":{"datum":-6.961,"type":"quantitative"},"y2":{"datum":-1.0}}},
{"data":{"name":"titles"},"mark":{"type":"text","font":"Liberation Sans","fontSize":43.5,"color":"black","baseline":"alphabetic","align":"center"},
 "encoding":{"x":{"field":"pos","type":"quantitative"},"y":{"datum":-11.94,"type":"quantitative"},"text":{"field":"label"}}},
{"data":{"name":"pairs"},"transform":[{"calculate":"datum.a+datum.d/2","as":"mid"}],
 "mark":{"type":"point","shape":"diamond","filled":true,"size":5458,"stroke":"white","strokeWidth":2,"opacity":1},
 "encoding":{"x":{"field":"mid","type":"quantitative"},"y":{"field":"d","type":"quantitative"},
  "color":{"field":"v","type":"quantitative","scale":{"domain":[0,0.51,0.65,0.82,1],"range":["#FFFFFF","#F0EA4C","#F5A236","#FB5A1C","#FF0000"],"interpolate":"rgb"},
   "legend":{"orient":"none","legendX":2660,"legendY":2535,"direction":"horizontal","title":"D' Color Key","titleLimit":1500,"gradientLength":1173,"gradientThickness":90,"gradientStrokeColor":"black","gradientStrokeWidth":3,"values":[0,1],"format":".1f","labelFont":"Liberation Sans","labelFontSize":84,"labelColor":"black","labelOffset":20,"labelOverlap":false,"titleFont":"Liberation Sans","titleFontSize":87,"titleFontWeight":"normal","titleColor":"black","titleAnchor":"middle","titlePadding":68,"encoding":{"labels":{"align":{"value":"center"}}}}}}},
{"data":{"name":"blocks"},"mark":{"type":"line","color":"black","strokeWidth":3,"strokeJoin":"miter"},
 "encoding":{"x":{"field":"pos","type":"quantitative"},"y":{"field":"sep","type":"quantitative"},"detail":{"field":"block"},"order":{"field":"seq"}}}
]}
